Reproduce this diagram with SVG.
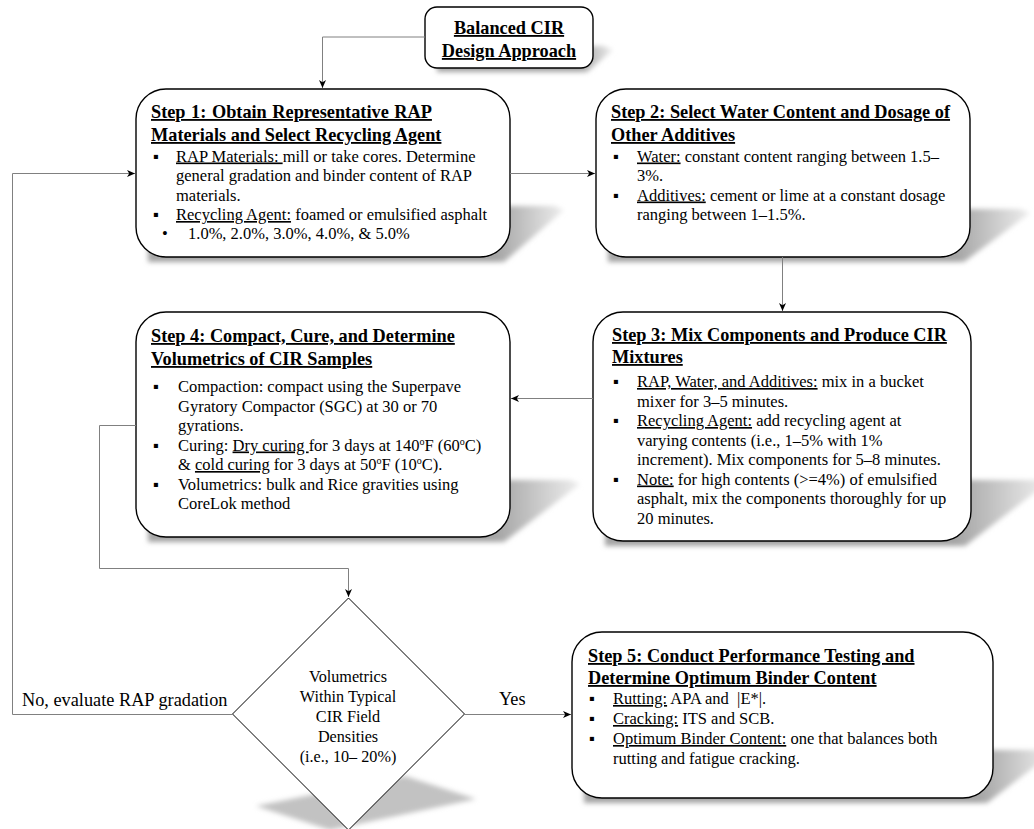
<svg xmlns="http://www.w3.org/2000/svg" width="1034" height="829" viewBox="0 0 1034 829">
<style>
text{font-family:"Liberation Serif","Times New Roman",serif;fill:#000}
.t{font-size:18.3px;font-weight:bold;text-decoration:underline}
.b{font-size:16.5px}
.d{font-size:16.2px}
.l{font-size:18.3px}
.box{fill:#fff;stroke:#000;stroke-width:1.4}
.con{fill:none;stroke:#808080;stroke-width:1;marker-end:url(#ah)}
.u{text-decoration:underline}
</style>
<defs>
<marker id="ah" markerWidth="9" markerHeight="8" refX="8" refY="4" orient="auto" markerUnits="userSpaceOnUse"><path d="M0,0.5 L8,4 L0,7.5 L2.2,4 z" fill="#000"/></marker>
<filter id="bl" x="-20%" y="-50%" width="140%" height="200%"><feGaussianBlur stdDeviation="2.5"/></filter>
<linearGradient id="gT" gradientUnits="userSpaceOnUse" x1="580" y1="0" x2="613" y2="0"><stop offset="0" stop-color="#a4a4a4"/><stop offset="1" stop-color="#eeeeee"/></linearGradient>
<linearGradient id="g1" gradientUnits="userSpaceOnUse" x1="495" y1="0" x2="564" y2="0"><stop offset="0" stop-color="#a4a4a4"/><stop offset="1" stop-color="#eeeeee"/></linearGradient>
<linearGradient id="g2" gradientUnits="userSpaceOnUse" x1="955" y1="0" x2="1030" y2="0"><stop offset="0" stop-color="#a4a4a4"/><stop offset="1" stop-color="#eeeeee"/></linearGradient>
<linearGradient id="g3" gradientUnits="userSpaceOnUse" x1="955" y1="0" x2="1046" y2="0"><stop offset="0" stop-color="#a4a4a4"/><stop offset="1" stop-color="#eeeeee"/></linearGradient>
<linearGradient id="g4" gradientUnits="userSpaceOnUse" x1="495" y1="0" x2="580" y2="0"><stop offset="0" stop-color="#a4a4a4"/><stop offset="1" stop-color="#eeeeee"/></linearGradient>
<linearGradient id="g5" gradientUnits="userSpaceOnUse" x1="978" y1="0" x2="1051" y2="0"><stop offset="0" stop-color="#a4a4a4"/><stop offset="1" stop-color="#eeeeee"/></linearGradient>
</defs>
<rect width="1034" height="829" fill="#fff"/>

<g id="title">
<polygon points="437,72 587,72 613,50 603,46 437,46" fill="url(#gT)" filter="url(#bl)"/>
<rect class="box" x="425" y="7" width="168" height="61" rx="12"/>
<text class="t" x="509" y="34" text-anchor="middle">Balanced CIR</text>
<text class="t" x="509" y="57" text-anchor="middle">Design Approach</text>
</g>

<g id="step1">
<polygon points="148,262 504,262 564,210 554,206 148,206" fill="url(#g1)" filter="url(#bl)"/>
<rect class="box" x="136" y="89" width="374" height="168" rx="30"/>
<text class="t" x="151" y="118" word-spacing="1">Step 1: Obtain Representative RAP</text>
<text class="t" x="151" y="141">Materials and Select Recycling Agent</text>
<text class="b" x="153" y="161.5">▪</text>
<text class="b" x="176" y="161.5" xml:space="preserve"><tspan class="u">RAP Materials: </tspan>mill or take cores. Determine</text>
<text class="b" x="176" y="181">general gradation and binder content of RAP</text>
<text class="b" x="176" y="200.5">materials.</text>
<text class="b" x="153" y="220">▪</text>
<text class="b" x="176" y="220" xml:space="preserve"><tspan class="u">Recycling Agent:</tspan> foamed or emulsified asphalt</text>
<text class="b" x="162" y="239">•</text>
<text class="b" x="188" y="239">1.0%, 2.0%, 3.0%, 4.0%, &amp; 5.0%</text>
</g>

<g id="step2">
<polygon points="608,262 964,262 1030,213 1020,209 608,209" fill="url(#g2)" filter="url(#bl)"/>
<rect class="box" x="596" y="89" width="374" height="168" rx="30"/>
<text class="t" x="611" y="118">Step 2: Select Water Content and Dosage of</text>
<text class="t" x="611" y="141">Other Additives</text>
<text class="b" x="613" y="161.5">▪</text>
<text class="b" x="637" y="161.5" xml:space="preserve"><tspan class="u">Water:</tspan> constant content ranging between 1.5–</text>
<text class="b" x="637" y="181">3%.</text>
<text class="b" x="613" y="200.5">▪</text>
<text class="b" x="637" y="200.5" xml:space="preserve"><tspan class="u">Additives:</tspan> cement or lime at a constant dosage</text>
<text class="b" x="637" y="220">ranging between 1–1.5%.</text>
</g>

<g id="step3">
<polygon points="605,546 965,546 1046,484 1036,480 605,480" fill="url(#g3)" filter="url(#bl)"/>
<rect class="box" x="593" y="312" width="378" height="229" rx="30"/>
<text class="t" x="612" y="341">Step 3: Mix Components and Produce CIR</text>
<text class="t" x="612" y="363">Mixtures</text>
<text class="b" x="613" y="387">▪</text>
<text class="b" x="637" y="387" xml:space="preserve"><tspan class="u">RAP, Water, and Additives:</tspan> mix in a bucket</text>
<text class="b" x="637" y="406.5">mixer for 3–5 minutes.</text>
<text class="b" x="613" y="426">▪</text>
<text class="b" x="637" y="426" xml:space="preserve"><tspan class="u">Recycling Agent:</tspan> add recycling agent at</text>
<text class="b" x="637" y="445.5">varying contents (i.e., 1–5% with 1%</text>
<text class="b" x="637" y="465">increment). Mix components for 5–8 minutes.</text>
<text class="b" x="613" y="484.5">▪</text>
<text class="b" x="637" y="484.5" xml:space="preserve"><tspan class="u">Note:</tspan> for high contents (&gt;=4%) of emulsified</text>
<text class="b" x="637" y="504">asphalt, mix the components thoroughly for up</text>
<text class="b" x="637" y="523.5">20 minutes.</text>
</g>

<g id="step4">
<polygon points="148,542 504,542 580,484 570,480 148,480" fill="url(#g4)" filter="url(#bl)"/>
<rect class="box" x="136" y="312" width="374" height="225" rx="30"/>
<text class="t" x="151" y="342">Step 4: Compact, Cure, and Determine</text>
<text class="t" x="151" y="365">Volumetrics of CIR Samples</text>
<text class="b" x="153" y="392">▪</text>
<text class="b" x="178" y="392">Compaction: compact using the Superpave</text>
<text class="b" x="178" y="411.5">Gyratory Compactor (SGC) at 30 or 70</text>
<text class="b" x="178" y="431">gyrations.</text>
<text class="b" x="153" y="450.5">▪</text>
<text class="b" x="178" y="450.5" xml:space="preserve">Curing: <tspan class="u">Dry curing </tspan>for 3 days at 140<tspan font-size="10" dy="-6">o</tspan><tspan dy="6">F (60</tspan><tspan font-size="10" dy="-6">o</tspan><tspan dy="6">C)</tspan></text>
<text class="b" x="178" y="470" xml:space="preserve">&amp; <tspan class="u">cold curing</tspan> for 3 days at 50<tspan font-size="10" dy="-6">o</tspan><tspan dy="6">F (10</tspan><tspan font-size="10" dy="-6">o</tspan><tspan dy="6">C).</tspan></text>
<text class="b" x="153" y="489.5">▪</text>
<text class="b" x="178" y="489.5">Volumetrics: bulk and Rice gravities using</text>
<text class="b" x="178" y="509">CoreLok method</text>
</g>

<g id="step5">
<polygon points="584,803 987,803 1051,754 1041,750 584,750" fill="url(#g5)" filter="url(#bl)"/>
<rect class="box" x="572" y="632" width="421" height="166" rx="30"/>
<text class="t" x="588" y="662">Step 5: Conduct Performance Testing and</text>
<text class="t" x="588" y="684">Determine Optimum Binder Content</text>
<text class="b" x="589" y="704">▪</text>
<text class="b" x="613" y="704" xml:space="preserve"><tspan class="u">Rutting:</tspan> APA and  |E*|.</text>
<text class="b" x="589" y="724">▪</text>
<text class="b" x="613" y="724" xml:space="preserve"><tspan class="u">Cracking:</tspan> ITS and SCB.</text>
<text class="b" x="589" y="744">▪</text>
<text class="b" x="613" y="744" xml:space="preserve"><tspan class="u">Optimum Binder Content:</tspan> one that balances both</text>
<text class="b" x="613" y="764">rutting and fatigue cracking.</text>
</g>

<g id="decision">
<polygon points="256,806 405,776 476,799 330,830" fill="#c2c2c2" filter="url(#bl)"/>
<polygon points="348.5,598 464.5,714 348.5,830 232.5,714" fill="#fff" stroke="#000" stroke-width="1"/>
<text class="d" x="348" y="682" text-anchor="middle">Volumetrics</text>
<text class="d" x="348" y="702" text-anchor="middle">Within Typical</text>
<text class="d" x="348" y="722" text-anchor="middle">CIR Field</text>
<text class="d" x="348" y="742" text-anchor="middle">Densities</text>
<text class="d" x="348" y="762" text-anchor="middle">(i.e., 10– 20%)</text>
</g>

<g id="connectors">
<path class="con" d="M425,37 H322.5 V88"/>
<path class="con" d="M510,173.5 H595"/>
<path class="con" d="M782.5,257 V311"/>
<path class="con" d="M593,398.5 H511"/>
<path class="con" d="M136,425.5 H99.5 V568.5 H348.5 V597"/>
<path class="con" d="M232.5,714.5 H12.5 V173.5 H135"/>
<path class="con" d="M464.5,714.5 H571"/>
<text class="l" x="22" y="706">No, evaluate RAP gradation</text>
<text class="l" x="499" y="705">Yes</text>
</g>
</svg>
